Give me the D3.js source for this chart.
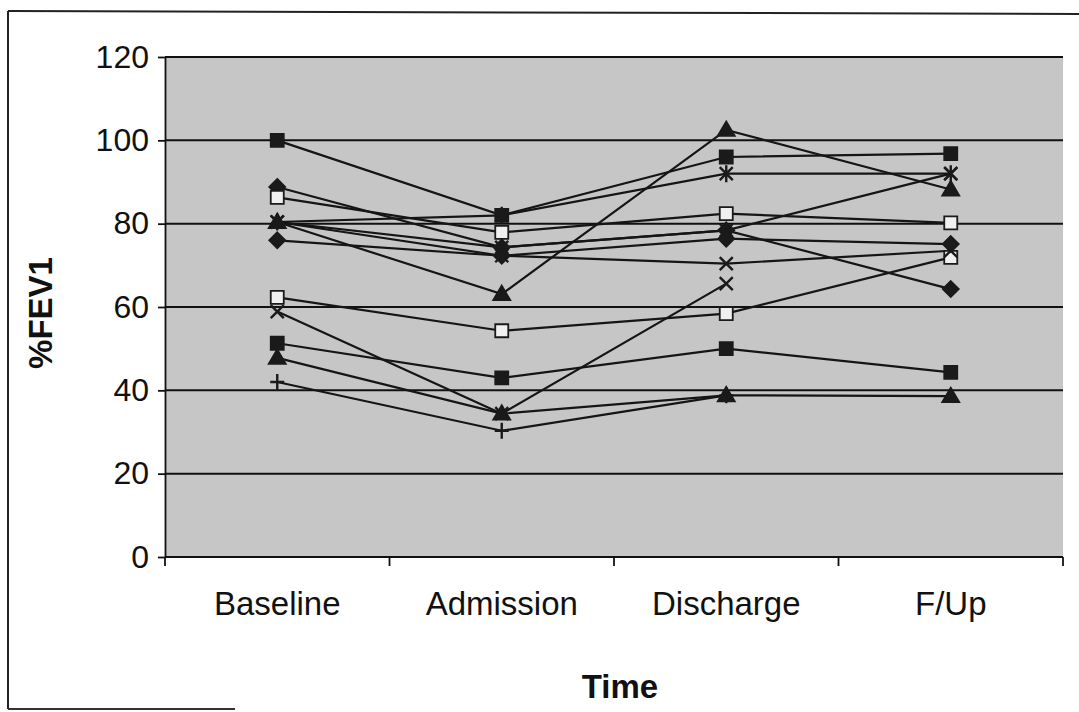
<!DOCTYPE html>
<html><head><meta charset="utf-8">
<script src="https://cdn.jsdelivr.net/npm/d3@7"></script>
<style>body{margin:0;background:#fff}svg{display:block}</style>
</head><body>
<svg id="c" width="1079" height="712"></svg>
<script>
// ---- data ----
const categories = ["Baseline", "Admission", "Discharge", "F/Up"];
const yTicks = [0, 20, 40, 60, 80, 100, 120];
const yTitle = "%FEV1";
const xTitle = "Time";

const s1  = [100.0, 82.0, 96.0, 96.8];
const s2  = [80.4, 63.1, 102.5, 88.2];
const s3  = [62.3, 54.3, 58.4, 71.9];
const s4  = [51.3, 43.0, 50.0, 44.3];
const s5  = [58.9, 34.4, 65.6, null];
const s6  = [47.8, 34.4, 38.8, 38.6];
const s7  = [42.0, 30.3, 38.8, null];
const s8  = [88.8, 74.3, 78.4, 64.3];
const s9  = [80.4, 82.0, 92.0, 92.0];
const s10 = [86.3, 77.9, 82.4, 80.2];
const s11 = [80.4, 74.3, 78.4, 92.0];
const s12 = [80.4, 72.3, 70.4, 73.5];
const s13 = [76.0, 72.3, 76.4, 75.1];
const seriesValues = [s1, s2, s3, s4, s5, s6, s7, s8, s9, s10, s11, s12, s13];
// marker style per series (style, kept apart from values)
const seriesMarkers = ["square", "triangle", "openSquare", "square", "x", "triangle", "plus",
                       "diamond", "asterisk", "openSquare", "x", "x", "diamond"];

// ---- layout ----
const svg = d3.select("#c");
const FONT = "Liberation Sans, Arial, sans-serif";
const plot = {left: 165, right: 1063, top: 57, bottom: 557};
const x = d3.scaleBand().domain(categories).range([plot.left, plot.right]).padding(0);
const y = d3.scaleLinear().domain([0, 120]).range([plot.bottom, plot.top]);
const cx = c => x(c) + x.bandwidth() / 2;

// outer chart border (scan)
svg.append("line").attr("x1", 8).attr("y1", 11).attr("x2", 1079).attr("y2", 14)
  .attr("stroke", "#222").attr("stroke-width", 2);
svg.append("line").attr("x1", 8).attr("y1", 11).attr("x2", 8).attr("y2", 709)
  .attr("stroke", "#222").attr("stroke-width", 2);
svg.append("line").attr("x1", 8).attr("y1", 709).attr("x2", 235).attr("y2", 709)
  .attr("stroke", "#333").attr("stroke-width", 2);

// plot area
svg.append("rect").attr("x", plot.left).attr("y", plot.top)
  .attr("width", plot.right - plot.left).attr("height", plot.bottom - plot.top)
  .attr("fill", "#c6c6c6");

// gridlines
svg.append("g").selectAll("line").data(yTicks.filter(d => d > 0)).join("line")
  .attr("x1", plot.left).attr("x2", plot.right)
  .attr("y1", d => y(d)).attr("y2", d => y(d))
  .attr("stroke", "#111").attr("stroke-width", 2);

// y axis
const yAxis = svg.append("g").attr("transform", `translate(${plot.left},0)`)
  .call(d3.axisLeft(y).tickValues(yTicks).tickSize(7).tickSizeOuter(0).tickPadding(9));
yAxis.select(".domain").attr("stroke", "#111").attr("stroke-width", 1.8);
yAxis.selectAll(".tick line").attr("stroke", "#111").attr("stroke-width", 1.8);
yAxis.selectAll(".tick text").attr("font-family", FONT)
  .attr("font-size", 32).attr("fill", "#111");

// x axis
const xAxis = svg.append("g").attr("transform", `translate(0,${plot.bottom})`)
  .call(d3.axisBottom(x).tickSize(0).tickPadding(35));
xAxis.select(".domain").remove();
xAxis.selectAll(".tick text").attr("font-family", FONT)
  .attr("font-size", 33).attr("fill", "#111");
svg.append("line").attr("x1", plot.left).attr("x2", plot.right)
  .attr("y1", plot.bottom).attr("y2", plot.bottom).attr("stroke", "#111").attr("stroke-width", 2);
const bounds = categories.map(c => x(c)).concat([x(categories[categories.length - 1]) + x.bandwidth()]);
svg.append("g").selectAll("line").data(bounds).join("line")
  .attr("x1", d => d).attr("x2", d => d)
  .attr("y1", plot.bottom).attr("y2", plot.bottom + 9)
  .attr("stroke", "#111").attr("stroke-width", 1.8);

// titles
svg.append("text").text(yTitle)
  .attr("transform", `translate(52,${(plot.top + plot.bottom) / 2 + 6}) rotate(-90)`)
  .attr("text-anchor", "middle").attr("font-family", FONT)
  .attr("font-weight", "bold").attr("font-size", 33).attr("fill", "#111");
svg.append("text").text(xTitle)
  .attr("x", 620).attr("y", 698)
  .attr("text-anchor", "middle").attr("font-family", FONT)
  .attr("font-weight", "bold").attr("font-size", 33).attr("fill", "#111");

// lines
const line = d3.line().defined(d => d.v != null).x(d => cx(d.c)).y(d => y(d.v));
const series = seriesValues.map((vals, i) => ({
  marker: seriesMarkers[i],
  pts: vals.map((v, j) => ({c: categories[j], v}))
}));
svg.append("g").selectAll("path").data(series).join("path")
  .attr("d", d => line(d.pts)).attr("fill", "none")
  .attr("stroke", "#151515").attr("stroke-width", 2.2);

// markers
function markerPath(t) {
  switch (t) {
    case "square": case "openSquare": return "M-6.5,-6.5H6.5V6.5H-6.5Z";
    case "diamond": return "M0,-8L8,0L0,8L-8,0Z";
    case "triangle": return "M0,-8.5L8.5,6H-8.5Z";
    case "x": return "M-6.5,-6.5L6.5,6.5M6.5,-6.5L-6.5,6.5";
    case "asterisk": return "M-6.5,-6.5L6.5,6.5M6.5,-6.5L-6.5,6.5M0,-8.5V8.5";
    case "plus": return "M-7,0H7M0,-8V8";
  }
}
const strokeOnly = ["x", "asterisk", "plus"];
const g = svg.append("g");
series.forEach(s => {
  g.selectAll(null).data(s.pts.filter(p => p.v != null)).join("path")
    .attr("transform", p => `translate(${cx(p.c)},${y(p.v)})`)
    .attr("d", markerPath(s.marker))
    .attr("fill", s.marker === "openSquare" ? "#f0f0f0" : (strokeOnly.includes(s.marker) ? "none" : "#1a1a1a"))
    .attr("stroke", "#1a1a1a")
    .attr("stroke-width", strokeOnly.includes(s.marker) ? 2.4 : 1.8);
});
</script>
</body></html>
